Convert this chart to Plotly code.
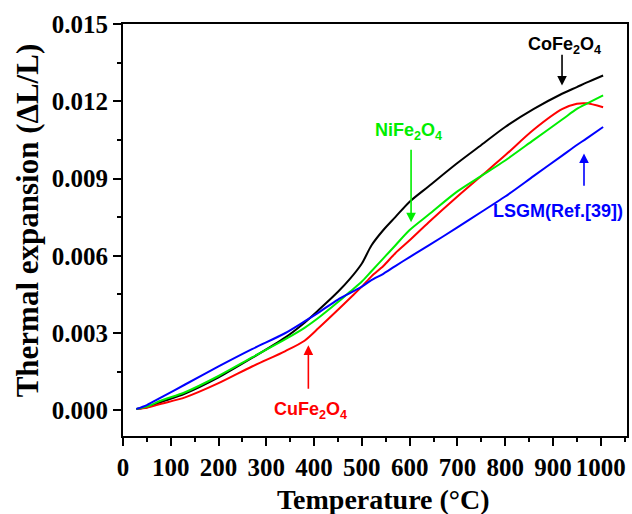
import plotly.graph_objects as go

temperature = [28, 50, 80, 130, 200, 270, 340, 380, 410, 450, 475, 500, 520, 545,
               570, 600, 640, 700, 750, 800, 860, 920, 950, 970, 1005]

cofe2o4 = [0.00005, 0.00012, 0.00032, 0.00065, 0.00128, 0.00203, 0.00283, 0.0034,
           0.0039, 0.0046, 0.0051, 0.0057, 0.0064, 0.0070, 0.0075, 0.0081, 0.0087,
           0.0096, 0.0103, 0.0110, 0.0117, 0.0123, 0.01255, 0.01272, 0.0130]

cufe2o4 = [0.00005, 0.00010, 0.00025, 0.00050, 0.00105, 0.0017, 0.0023, 0.0027,
           0.0032, 0.0039, 0.00435, 0.0048, 0.0052, 0.0056, 0.0061, 0.0066, 0.0073,
           0.0083, 0.0091, 0.0099, 0.0109, 0.0117, 0.0119, 0.01192, 0.01177]

nife2o4 = [0.00005, 0.00014, 0.00038, 0.0007, 0.00133, 0.00205, 0.00276, 0.0032,
           0.0036, 0.0042, 0.0046, 0.0050, 0.0054, 0.0059, 0.0064, 0.0070, 0.0076,
           0.0085, 0.0091, 0.0097, 0.0105, 0.0113, 0.0117, 0.0119, 0.01223]

lsgm = [0.00005, 0.0002, 0.0005, 0.001, 0.0017, 0.00237, 0.0030, 0.00345,
        0.0038, 0.0043, 0.00455, 0.0048, 0.00505, 0.0053, 0.0056, 0.00595, 0.0064,
        0.0071, 0.0077, 0.0083, 0.0091, 0.0099, 0.0103, 0.01055, 0.0110]

series = [
    ("CoFe2O4", cofe2o4, "#000000"),
    ("CuFe2O4", cufe2o4, "#ff0000"),
    ("NiFe2O4", nife2o4, "#00ee00"),
    ("LSGM", lsgm, "#0000ff"),
]

fig = go.Figure()
for name, vals, col in series:
    fig.add_trace(go.Scatter(x=temperature, y=vals, mode="lines", name=name,
                             line=dict(color=col, width=2, shape="spline", smoothing=0.8)))

serif = "Liberation Serif"
sans = "Liberation Sans"

axis_common = dict(
    showline=True, linewidth=2, linecolor="black", mirror=True,
    ticks="outside", ticklen=8, tickwidth=2, tickcolor="black",
    showgrid=False, zeroline=False,
    tickfont=dict(family=serif, size=25, color="black", weight="bold"),
)

fig.update_xaxes(range=[0, 1055], tick0=0, dtick=100,
                 minor=dict(ticks="outside", ticklen=4, tickwidth=2, tickcolor="black", dtick=50),
                 **axis_common)
fig.update_yaxes(range=[-0.001, 0.015], tick0=0, dtick=0.003, tickformat=".3f",
                 minor=dict(ticks="outside", ticklen=4, tickwidth=2, tickcolor="black", dtick=0.0015),
                 **axis_common)

labels = [
    ("CoFe<sub>2</sub>O<sub>4</sub>", 925, 0.01417, "#000000"),
    ("NiFe<sub>2</sub>O<sub>4</sub>", 597, 0.01083, "#00ee00"),
    ("LSGM(Ref.[39])", 911, 0.00772, "#0000ff"),
    ("CuFe<sub>2</sub>O<sub>4</sub>", 392, 0.0000, "#ff0000"),
]
for txt, x, y, col in labels:
    fig.add_annotation(x=x, y=y, xref="x", yref="y", text="<b>" + txt + "</b>",
                       showarrow=False, xanchor="center", yanchor="middle",
                       font=dict(family=sans, size=18, color=col))

arrows = [
    (919, 0.01261, 0.01386, "#000000"),
    (603, 0.0073, 0.01017, "#00ee00"),
    (965, 0.00997, 0.00866, "#0000ff"),
    (388, 0.00252, 0.00078, "#ff0000"),
]
for x, tip, tail, col in arrows:
    fig.add_annotation(x=x, y=tip, ax=x, ay=tail, xref="x", yref="y", axref="x", ayref="y",
                       text="", showarrow=True, arrowhead=2, arrowsize=1.2, arrowwidth=1.6,
                       arrowcolor=col, standoff=0, startstandoff=0)

fig.add_annotation(x=0.516, y=-0.155, xref="paper", yref="paper",
                   text="<b>Temperature (°C)</b>", showarrow=False,
                   xanchor="center", yanchor="middle",
                   font=dict(family=serif, size=28, color="black"))
fig.add_annotation(x=-0.19, y=0.524, xref="paper", yref="paper",
                   text="<b>Thermal expansion (ΔL/L)</b>", showarrow=False, textangle=-90,
                   xanchor="center", yanchor="middle",
                   font=dict(family=serif, size=31, color="black"))

fig.update_layout(
    width=632, height=514,
    margin=dict(l=123, r=3, t=24, b=78),
    paper_bgcolor="white", plot_bgcolor="white",
    showlegend=False,
)

fig.write_html("out.html")
